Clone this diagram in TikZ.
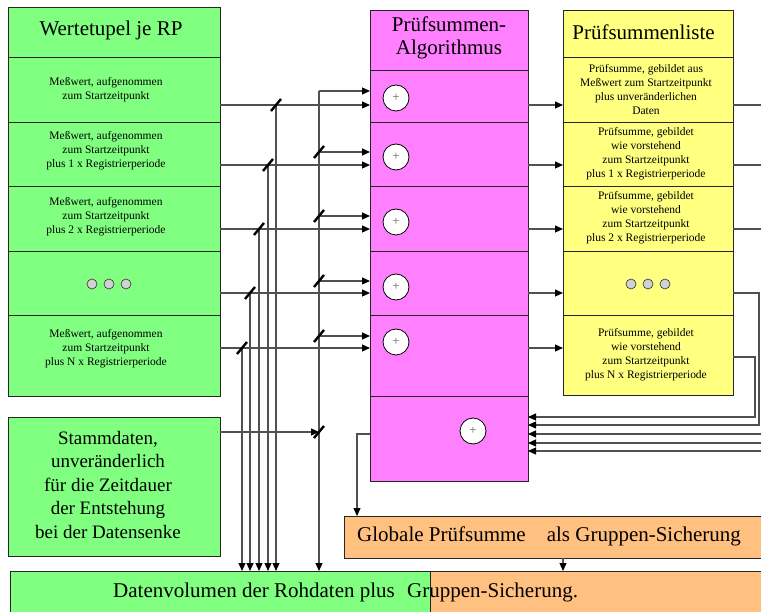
\documentclass[tikz,border=0pt]{standalone}
\usepackage{fontspec}
\setmainfont{Liberation Serif}
\usetikzlibrary{arrows.meta,calc}
\definecolor{cgreen}{RGB}{128,255,128}
\definecolor{cmag}{RGB}{255,128,255}
\definecolor{cyel}{RGB}{255,255,128}
\definecolor{corange}{RGB}{255,192,128}
\definecolor{cwire}{RGB}{80,80,80}
\begin{document}
\begin{tikzpicture}[x=1pt,y=-1pt,
  cell/.style={draw=black!85, line width=0.8pt, anchor=north west, inner sep=0pt, outer sep=0pt},
  gcell/.style={cell, fill=cgreen, minimum width=212pt},
  mcell/.style={cell, fill=cmag, minimum width=158pt},
  ycell/.style={cell, fill=cyel, minimum width=170pt},
  wire/.style={draw=cwire, line width=1.1pt},
  arr/.style={wire, -{Triangle[length=8pt,width=7pt,color=black]}},
  tick/.style={draw=black, line width=2.4pt},
  small/.style={font=\fontsize{11.5}{14}\selectfont, align=center, inner sep=0pt},
  big/.style={font=\fontsize{21}{23}\selectfont, align=center, inner sep=0pt},
  sum/.style={circle, draw=black, fill=white, line width=0.8pt, minimum size=26pt, inner sep=0pt, font=\fontsize{13}{13}\selectfont\color{black!60}},
  dot/.style={circle, draw=black!80, fill=black!18, line width=0.6pt, minimum size=10pt, inner sep=0pt}
]
\useasboundingbox (0,0) rectangle (761,612);

% ---------- left column (green)
\node[gcell, minimum height=50pt] (gh) at (8,7) {};
\node[gcell, minimum height=65pt] (g1) at (8,57) {};
\node[gcell, minimum height=64pt] (g2) at (8,122) {};
\node[gcell, minimum height=65pt] (g3) at (8,186) {};
\node[gcell, minimum height=64pt] (g4) at (8,251) {};
\node[gcell, minimum height=81pt] (g5) at (8,315) {};
\node[big] (tgh) at (111,30) {Wertetupel je RP};
\node[small] (tg1) at (106,89.5) {Meßwert, aufgenommen\\zum Startzeitpunkt};
\node[small] (tg2) at (106,151) {Meßwert, aufgenommen\\zum Startzeitpunkt\\plus 1 x Registrierperiode};
\node[small] (tg3) at (106,217) {Meßwert, aufgenommen\\zum Startzeitpunkt\\plus 2 x Registrierperiode};
\node[dot] (gd1) at (92,284) {};
\node[dot] (gd2) at (109,284) {};
\node[dot] (gd3) at (126,284) {};
\node[small] (tg5) at (106,349) {Meßwert, aufgenommen\\zum Startzeitpunkt\\plus N x Registrierperiode};

% ---------- middle column (magenta)
\node[mcell, minimum height=60pt] (mh) at (370,10) {};
\node[mcell, minimum height=52pt] (m1) at (370,70) {};
\node[mcell, minimum height=64pt] (m2) at (370,122) {};
\node[mcell, minimum height=65pt] (m3) at (370,186) {};
\node[mcell, minimum height=64pt] (m4) at (370,251) {};
\node[mcell, minimum height=81pt] (m5) at (370,315) {};
\node[mcell, minimum height=85pt] (m6) at (370,396) {};
\node[big] (tmh) at (449,38) {Prüfsummen-\\Algorithmus};
\node[sum] (c1) at (396,98) {+};
\node[sum] (c2) at (396,157) {+};
\node[sum] (c3) at (396,222) {+};
\node[sum] (c4) at (396,287) {+};
\node[sum] (c5) at (396,342) {+};
\node[sum] (c6) at (473,431) {+};

% ---------- right column (yellow)
\node[ycell, minimum height=47pt] (yh) at (563,10) {};
\node[ycell, minimum height=65pt] (y1) at (563,57) {};
\node[ycell, minimum height=64pt] (y2) at (563,122) {};
\node[ycell, minimum height=65pt] (y3) at (563,186) {};
\node[ycell, minimum height=64pt] (y4) at (563,251) {};
\node[ycell, minimum height=80pt] (y5) at (563,315) {};
\node[big] (tyh) at (643.5,32) {Prüfsummenliste};
\node[small] (ty1) at (646,90) {Prüfsumme, gebildet aus\\Meßwert zum Startzeitpunkt\\plus unveränderlichen\\Daten};
\node[small] (ty2) at (646,154) {Prüfsumme, gebildet\\wie vorstehend\\zum Startzeitpunkt\\plus 1 x Registrierperiode};
\node[small] (ty3) at (646,218) {Prüfsumme, gebildet\\wie vorstehend\\zum Startzeitpunkt\\plus 2 x Registrierperiode};
\node[dot] (yd1) at (631,284) {};
\node[dot] (yd2) at (648,284) {};
\node[dot] (yd3) at (665,284) {};
\node[small] (ty5) at (646,355) {Prüfsumme, gebildet\\wie vorstehend\\zum Startzeitpunkt\\plus N x Registrierperiode};

% ---------- Stammdaten, Globale, bottom bar
\node[gcell, minimum height=139pt] (st) at (8,417) {};
\node[font=\fontsize{19}{23.5}\selectfont, align=center, inner sep=0pt] (tst) at (108,485)
  {Stammdaten,\\unveränderlich\\für die Zeitdauer\\der Entstehung\\bei der Datensenke};
\node[cell, fill=corange, minimum width=431pt, minimum height=42pt] (gl) at (344,516) {};
\node[font=\fontsize{21}{23}\selectfont, anchor=west, inner sep=0pt] (tgl) at (357,536)
  {Globale Prüfsumme\hspace{21pt}als Gruppen-Sicherung};
\node[cell, fill=cgreen, minimum width=420pt, minimum height=50pt] (bg) at (10,571) {};
\node[cell, fill=corange, minimum width=345pt, minimum height=50pt] (bo) at (430,571) {};
\node[font=\fontsize{21}{23}\selectfont, anchor=west, inner sep=0pt] (tbot) at (113,592)
  {Datenvolumen der Rohdaten plus\hspace{7pt} Gruppen-Sicherung.};

% ---------- level coordinates
\coordinate (L1) at (0,105); \coordinate (L2) at (0,165); \coordinate (L3) at (0,229);
\coordinate (L4) at (0,293); \coordinate (L5) at (0,348);
\coordinate (U1) at (0,91);  \coordinate (U2) at (0,152); \coordinate (U3) at (0,216);
\coordinate (U4) at (0,281); \coordinate (U5) at (0,336);
\coordinate (t1) at (276,105); \coordinate (t2) at (268,165); \coordinate (t3) at (259,229);
\coordinate (t4) at (250,293); \coordinate (t5) at (242,348);
\coordinate (bus) at (319,91);
\coordinate (b2) at (319,152); \coordinate (b3) at (319,216);
\coordinate (b4) at (319,281); \coordinate (b5) at (319,336);
\coordinate (sj) at (319,432);

% ---------- green -> magenta -> yellow
\foreach \i in {1,...,5} {
  \draw[arr] (g\i.east |- L\i) -- (m\i.west |- L\i);
  \draw[arr] (m\i.east |- L\i) -- (y\i.west |- L\i);
}
\draw[arr] (bus) -- (m1.west |- U1);
\draw[arr] (b2) -- (m2.west |- U2);
\draw[arr] (b3) -- (m3.west |- U3);
\draw[arr] (b4) -- (m4.west |- U4);
\draw[arr] (b5) -- (m5.west |- U5);
\draw[arr] (st.east |- sj) -- (sj);
\draw[arr] (bus) -- (bus |- bg.north);
\foreach \t in {t1,t2,t3,t4,t5} {
  \draw[arr] (\t) -- (\t |- bg.north);
}
\foreach \t in {t1,t2,t3,t4,t5,b2,b3,b4,b5,sj} {
  \draw[tick] ($(\t)+(-5,6)$) -- ($(\t)+(5,-6)$);
}

% ---------- yellow -> right / returns
\coordinate (E1) at (768,105); \coordinate (E2) at (768,165); \coordinate (E3) at (768,229);
\draw[wire] (y1.east |- E1) -- (E1);
\draw[wire] (y2.east |- E2) -- (E2);
\draw[wire] (y3.east |- E3) -- (E3);
\coordinate (R4) at (759,293); \coordinate (R4b) at (759,425);
\coordinate (R5) at (755,357); \coordinate (R5b) at (755,417);
\draw[arr] (y4.east |- R4) -- (R4) -- (R4b) -- (m6.east |- R4b);
\draw[arr] (y5.east |- R5) -- (R5) -- (R5b) -- (m6.east |- R5b);
\coordinate (E6) at (768,434); \coordinate (E7) at (768,443); \coordinate (E8) at (768,451);
\draw[arr] (E6) -- (m6.east |- E6);
\draw[arr] (E7) -- (m6.east |- E7);
\draw[arr] (E8) -- (m6.east |- E8);

% ---------- magenta -> Globale -> bottom
\coordinate (G1) at (357,434);
\draw[arr] (m6.west |- G1) -- (G1) -- (G1 |- gl.north);
\coordinate (G2) at (563,0);
\draw[arr] (gl.south -| G2) -- (bo.north -| G2);
\end{tikzpicture}
\end{document}
